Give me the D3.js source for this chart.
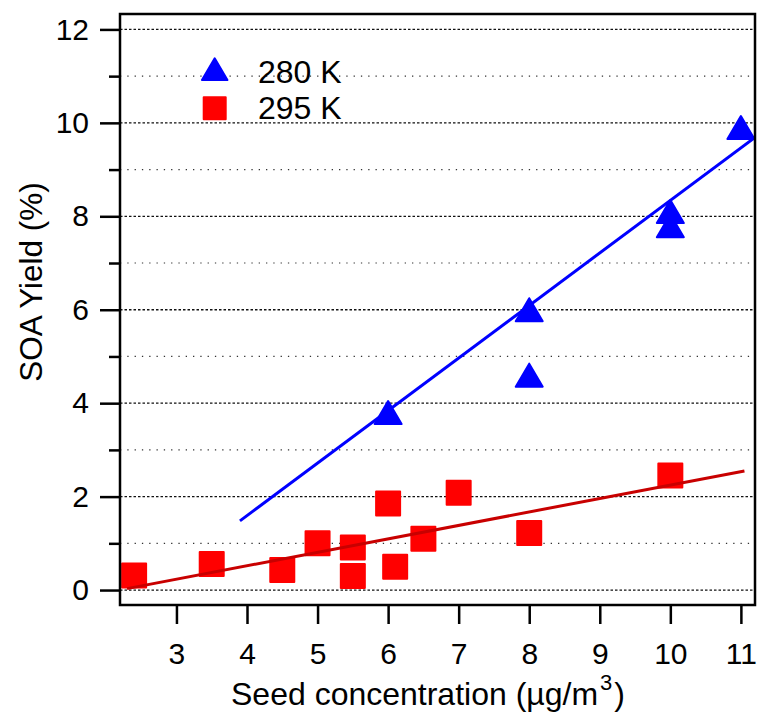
<!DOCTYPE html>
<html>
<head>
<meta charset="utf-8">
<script src="https://cdn.jsdelivr.net/npm/d3@7"></script>
<style>
  html, body { margin: 0; padding: 0; background: #fff; }
  svg { display: block; font-family: "Liberation Sans", Arial, sans-serif; }
</style>
</head>
<body>
<svg id="chart" width="760" height="715"></svg>
<script>
// 280 K experiments
const seed280 = [6, 8, 8, 10, 10, 11];
const yield280 = [3.8, 4.6, 6.0, 8.1, 7.8, 9.9];
// 295 K experiments
const seed295 = [2.4, 3.5, 4.5, 5, 5.5, 5.5, 6, 6.1, 6.5, 7, 8, 10];
const yield295 = [0.31, 0.56, 0.43, 1.0, 0.91, 0.30, 1.85, 0.50, 1.1, 2.08, 1.22, 2.45];
// linear fit lines (end points)
const fit280Seed = [3.9, 11.2];
const fit280Yield = [1.48, 9.69];
const fit295Seed = [2.3, 11.05];
const fit295Yield = [0.03, 2.55];
// axis ticks
const xTicks = [3, 4, 5, 6, 7, 8, 9, 10, 11];
const yMajorTicks = [0, 2, 4, 6, 8, 10, 12];
const yMinorTicks = [1, 3, 5, 7, 9, 11];
const legendLabels = ["280 K", "295 K"];

const box = { left: 120, right: 755, top: 14, bottom: 605 };
const svg = d3.select("#chart");

const x = d3.scaleLinear().domain([2.2, 11.2]).range([box.left, box.right]);
const y = d3.scaleLinear().domain([-0.32, 12.33]).range([box.bottom, box.top]);

svg.append("defs").append("clipPath").attr("id", "plotClip")
  .append("rect").attr("x", box.left).attr("y", box.top)
  .attr("width", box.right - box.left).attr("height", box.bottom - box.top);

// horizontal grid lines
const grid = svg.append("g");
grid.selectAll("line.major").data(yMajorTicks).join("line")
  .attr("class", "major")
  .attr("x1", box.left).attr("x2", box.right)
  .attr("y1", d => y(d)).attr("y2", d => y(d))
  .attr("stroke", "#111").attr("stroke-width", 1.3)
  .attr("stroke-dasharray", "2.5,2");
grid.selectAll("line.minor").data(yMinorTicks).join("line")
  .attr("class", "minor")
  .attr("x1", box.left).attr("x2", box.right)
  .attr("y1", d => y(d)).attr("y2", d => y(d))
  .attr("stroke", "#333").attr("stroke-width", 1.2)
  .attr("stroke-dasharray", "1.3,6");

// axes
const tickFont = 30;
const titleFont = 32;
const legendFont = 32;
const yAxis = svg.append("g").attr("transform", `translate(${box.left},0)`)
  .call(d3.axisLeft(y).tickValues(yMajorTicks).tickSize(20).tickPadding(11).tickFormat(d3.format("d")));
const yMinor = svg.append("g").attr("transform", `translate(${box.left},0)`)
  .call(d3.axisLeft(y).tickValues(yMinorTicks).tickSize(11).tickFormat(""));
const xAxis = svg.append("g").attr("transform", `translate(0,${box.bottom})`)
  .call(d3.axisBottom(x).tickValues(xTicks).tickSize(19).tickPadding(19).tickFormat(d3.format("d")));

[yAxis, yMinor, xAxis].forEach(g => {
  g.select(".domain").remove();
  g.selectAll(".tick line").attr("stroke", "#000").attr("stroke-width", 2.5);
  g.selectAll(".tick text").attr("font-size", tickFont).attr("fill", "#000")
    .attr("font-family", "Liberation Sans, Arial, sans-serif");
});

// markers
const plot = svg.append("g").attr("clip-path", "url(#plotClip)");
const triW = 27, triH = 23;
function trianglePath(cx, cy, w, h) {
  const p = d3.path();
  p.moveTo(cx, cy - h / 2);
  p.lineTo(cx + w / 2, cy + h / 2);
  p.lineTo(cx - w / 2, cy + h / 2);
  p.closePath();
  return p.toString();
}
const pts295 = seed295.map((s, i) => ({ s, v: yield295[i] }));
const pts280 = seed280.map((s, i) => ({ s, v: yield280[i] }));

const sq = 24;
plot.selectAll("rect.m295").data(pts295).join("rect")
  .attr("class", "m295")
  .attr("x", d => x(d.s) - sq / 2).attr("y", d => y(d.v) - sq / 2)
  .attr("width", sq).attr("height", sq)
  .attr("fill", "#ff0000").attr("stroke", "#ff0000")
  .attr("stroke-width", 2).attr("stroke-linejoin", "round");

plot.selectAll("path.m280").data(pts280).join("path")
  .attr("class", "m280")
  .attr("d", d => trianglePath(x(d.s), y(d.v), triW, triH))
  .attr("fill", "#0000ff").attr("stroke", "#0000ff")
  .attr("stroke-width", 2).attr("stroke-linejoin", "round");

// fit lines
const line = d3.line().x(d => x(d[0])).y(d => y(d[1]));
plot.append("path")
  .datum(fit295Seed.map((s, i) => [s, fit295Yield[i]]))
  .attr("d", line).attr("fill", "none")
  .attr("stroke", "#c80000").attr("stroke-width", 3);
plot.append("path")
  .datum(fit280Seed.map((s, i) => [s, fit280Yield[i]]))
  .attr("d", line).attr("fill", "none")
  .attr("stroke", "#0000ff").attr("stroke-width", 3);

// frame
svg.append("rect").attr("x", box.left).attr("y", box.top)
  .attr("width", box.right - box.left).attr("height", box.bottom - box.top)
  .attr("fill", "none").attr("stroke", "#000").attr("stroke-width", 2.5);

// legend
const legend = svg.append("g");
legend.append("path")
  .attr("d", trianglePath(214.7, 69.2, 25.5, 21.7))
  .attr("fill", "#0000ff").attr("stroke", "#0000ff")
  .attr("stroke-width", 2).attr("stroke-linejoin", "round");
legend.append("rect")
  .attr("x", 214.7 - 11).attr("y", 108.3 - 11).attr("width", 22).attr("height", 22)
  .attr("fill", "#ff0000").attr("stroke", "#ff0000")
  .attr("stroke-width", 2).attr("stroke-linejoin", "round");
legend.selectAll("text").data(legendLabels).join("text")
  .attr("x", 258).attr("y", (d, i) => i === 0 ? 82.5 : 118.5)
  .attr("font-size", legendFont).attr("fill", "#000")
  .text(d => d);

// axis titles
const xTitle = svg.append("text")
  .attr("x", 231).attr("y", 705)
  .attr("font-size", titleFont).attr("fill", "#000");
xTitle.append("tspan").text("Seed concentration (\u00b5g/m");
xTitle.append("tspan").attr("font-size", 22).attr("dx", 2).attr("dy", -15).text("3");
xTitle.append("tspan").attr("dx", 2).attr("dy", 15).text(")");

svg.append("text")
  .attr("transform", "translate(42,282) rotate(-90)")
  .attr("text-anchor", "middle")
  .attr("font-size", 31.5).attr("fill", "#000")
  .text("SOA Yield (%)");
</script>
</body>
</html>
